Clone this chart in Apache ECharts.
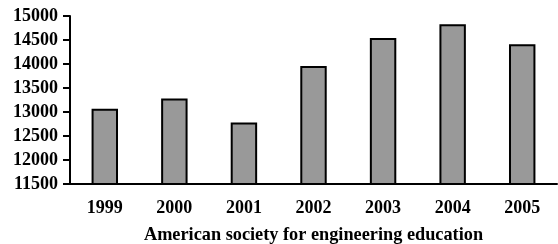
<!DOCTYPE html>
<html>
<head>
<meta charset="utf-8">
<title>ASEE</title>
<script src="https://cdn.jsdelivr.net/npm/echarts@6/dist/echarts.min.js"></script>
<style>
  html, body { margin: 0; padding: 0; background: #fff; }
  #chart { width: 558px; height: 244px; }
</style>
</head>
<body>
<div id="chart"></div>
<script>
  var years = ['1999', '2000', '2001', '2002', '2003', '2004', '2005'];
  var values = [13070, 13280, 12780, 13960, 14540, 14830, 14410];
  var axisName = 'American society for engineering education';

  var font = 'Times New Roman, Liberation Serif, DejaVu Serif, serif';
  var chart = echarts.init(document.getElementById('chart'));
  chart.setOption({
    animation: false,
    textStyle: { fontFamily: font },
    grid: { left: 70, right: 1, top: 16, bottom: 60, containLabel: false, outerBoundsMode: 'none' },
    xAxis: {
      type: 'category',
      data: years,
      name: axisName,
      nameLocation: 'middle',
      nameGap: 42,
      nameTextStyle: { color: '#000', fontFamily: font, fontSize: 18.3, fontWeight: 'bold' },
      axisLine: { lineStyle: { color: '#000', width: 2 } },
      axisTick: { length: 7, lineStyle: { color: '#000', width: 2 } },
      axisLabel: { color: '#000', fontFamily: font, fontSize: 18, fontWeight: 'bold', margin: 15 }
    },
    yAxis: {
      type: 'value',
      min: 11500,
      max: 15000,
      interval: 500,
      splitLine: { show: false },
      axisLine: { show: true, lineStyle: { color: '#000', width: 2 } },
      axisTick: { show: true, length: 7, lineStyle: { color: '#000', width: 2 } },
      axisLabel: {
        color: '#000', fontFamily: font, fontSize: 18, fontWeight: 'bold', margin: 12,
        formatter: function (v) { return String(v); }
      }
    },
    series: [{
      type: 'bar',
      data: values,
      barWidth: '38%',
      itemStyle: { color: '#999999', borderColor: '#000', borderWidth: 2 }
    }]
  });
</script>
</body>
</html>
